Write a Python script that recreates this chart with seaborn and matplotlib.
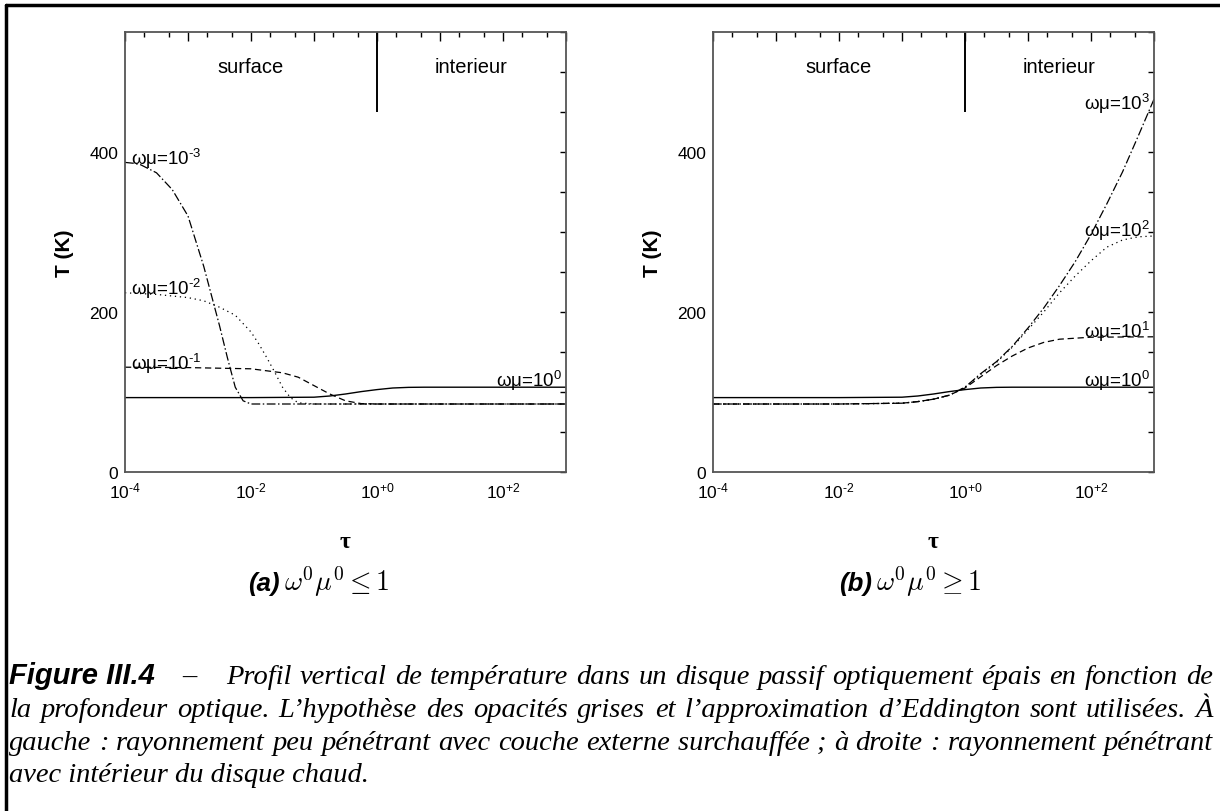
import numpy as np
import matplotlib
matplotlib.use("Agg")
import matplotlib.pyplot as plt
import seaborn as sns
from matplotlib.lines import Line2D
from matplotlib.ticker import MultipleLocator, LogLocator, FixedLocator, FuncFormatter, NullFormatter

W, H = 1220, 812

# log10(tau) sample points and temperatures (K)
# omega*mu = 1 (solid, same in both panels)
lt_1 = [-4, -2, -1, -0.75, -0.5, -0.25, 0, 0.25, 0.5, 0.75, 1, 3]
T_1 = [93, 93, 93.5, 95, 97.5, 100.5, 103, 105, 105.8, 106, 106, 106]

# left panel: omega*mu = 1e-3, 1e-2, 1e-1
lt_m3 = [-4, -3.875, -3.75, -3.5, -3.25, -3.0, -2.75, -2.5, -2.375, -2.25, -2.125, -2.0, -1.5, 3]
T_m3 = [387, 386, 384, 374, 353, 320, 257, 183, 143, 106, 89, 85, 85, 85]

lt_m2 = [-4, -3.5, -3.0, -2.75, -2.5, -2.25, -2.0, -1.875, -1.75, -1.625, -1.5, -1.375, -1.25, -1.0, 3]
T_m2 = [224, 222, 218, 214, 206, 196, 175, 160, 143, 125, 106, 93, 86.5, 85, 85]

lt_m1 = [-4, -3, -2, -1.5, -1.25, -1.0, -0.75, -0.5, -0.25, 0, 3]
T_m1 = [131, 130.5, 129, 124, 118.5, 108, 97.5, 89, 85.5, 85, 85]

# right panel: omega*mu = 1e1, 1e2, 1e3
lt_p1 = [-4, -2, -1, -0.75, -0.5, -0.25, 0, 0.25, 0.5, 0.75, 1.0, 1.25, 1.5, 2.0, 3.0]
T_p1 = [85, 85, 86, 88, 91, 96, 105, 119, 133, 145, 155, 162, 166, 168.5, 169]

lt_p23 = [-4, -2, -1, -0.75, -0.5, -0.25, 0, 0.25, 0.5, 0.75, 1.0, 1.25, 1.5, 1.75, 2.0, 2.25, 2.5, 2.75, 3.0]
T_p2 = [85, 85, 86, 88, 91, 96, 106, 122, 137, 156, 178, 200, 224, 245, 264, 281, 290, 294, 295]
T_p3 = [85, 85, 86, 88, 91, 96, 106, 123, 138, 157, 180, 205, 233, 263, 297, 335, 375, 420, 466]

# surface / interieur separation
boundary_tau = 1.0
boundary_T = [450, 550]
region_labels = ["surface", "interieur"]
region_tau = [1e-2, 10 ** 1.5]
region_T = 507

xtick_labels = {-4: r"10$^{\text{-4}}$", -2: r"10$^{\text{-2}}$", 0: r"10$^{\text{+0}}$", 2: r"10$^{\text{+2}}$"}

sns.set_theme(style="white")
plt.rcParams['font.family'] = ['Liberation Sans', 'DejaVu Sans']
plt.rcParams['mathtext.fontset'] = 'custom'
plt.rcParams['mathtext.rm'] = 'Liberation Sans'
plt.rcParams['mathtext.it'] = 'Liberation Sans:italic'
plt.rcParams['mathtext.bf'] = 'Liberation Sans:bold'

fig = plt.figure(figsize=(W / 100, H / 100), dpi=100)
fig.patch.set_facecolor("white")


def fx(x):
    return x / W


def fy(y):
    return 1 - y / H


styles = {
    "solid": dict(linestyle="-", lw=1.0),
    "dashed": dict(linestyle=(0, (5, 3)), lw=0.9),
    "dotted": dict(linestyle=(0, (1, 3)), lw=0.9),
    "dashdot": dict(linestyle=(0, (7, 2, 1.2, 2)), lw=0.9),
}


def setup_axes(ax):
    ax.set_xscale("log")
    ax.set_xlim(1e-4, 1e3)
    ax.set_ylim(0, 550)
    ax.set_facecolor("white")
    for s in ax.spines.values():
        s.set_color("#555555")
        s.set_linewidth(1.3)
    ax.yaxis.set_major_locator(MultipleLocator(50))
    ax.yaxis.set_major_formatter(FuncFormatter(lambda v, p: f"{int(v)}" if v % 200 == 0 else ""))
    ax.xaxis.set_major_locator(FixedLocator([10.0 ** k for k in range(-4, 4)]))
    ax.xaxis.set_major_formatter(FuncFormatter(
        lambda v, p: xtick_labels.get(int(round(np.log10(v))), "")))
    ax.xaxis.set_minor_locator(LogLocator(base=10, subs=[2, 5], numticks=20))
    ax.xaxis.set_minor_formatter(NullFormatter())
    ax.tick_params(axis="both", which="both", direction="in", top=True, right=True,
                   color="black", width=1.0, labelsize=12.5, labelcolor="black")
    ax.tick_params(axis="x", which="major", length=6.5, pad=6)
    ax.tick_params(axis="x", which="minor", length=3.3)
    ax.tick_params(axis="y", which="major", length=4, pad=5)
    ax.vlines(boundary_tau, boundary_T[0], boundary_T[1], color="black", lw=1.4)
    for lab, t in zip(region_labels, region_tau):
        ax.text(t, region_T, lab, ha="center", va="center", fontsize=14.5, color="black")
    ax.set_xlabel("")
    ax.set_ylabel("")


def curve(ax, lt, T, style):
    sns.lineplot(x=10.0 ** np.array(lt), y=T, ax=ax, color="black", **styles[style])


def label_left(ax, T, text):
    ax.annotate(text, xy=(1e-4, T), xytext=(4, 0), textcoords="offset points",
                ha="left", va="baseline", fontsize=13.5, color="black")


def label_right(ax, T, text):
    ax.annotate(text, xy=(1e3, T), xytext=(-3, 0), textcoords="offset points",
                ha="right", va="baseline", fontsize=13.5, color="black")


ax_a = fig.add_axes([fx(125), fy(473), 441 / W, 440 / H])
ax_b = fig.add_axes([fx(713), fy(473), 441 / W, 440 / H])

for ax in (ax_a, ax_b):
    setup_axes(ax)
    curve(ax, lt_1, T_1, "solid")

curve(ax_a, lt_m1, T_m1, "dashed")
curve(ax_a, lt_m2, T_m2, "dotted")
curve(ax_a, lt_m3, T_m3, "dashdot")
label_left(ax_a, T_m3[0] - 2, r"ωμ=10$^{\text{-3}}$")
label_left(ax_a, T_m2[0] - 2, r"ωμ=10$^{\text{-2}}$")
label_left(ax_a, T_m1[0] - 2, r"ωμ=10$^{\text{-1}}$")
label_right(ax_a, 107, "ωμ=10$^{0}$")

curve(ax_b, lt_p1, T_p1, "dashed")
curve(ax_b, lt_p23, T_p2, "dotted")
curve(ax_b, lt_p23, T_p3, "dashdot")
label_right(ax_b, 454, "ωμ=10$^{3}$")
label_right(ax_b, 295, "ωμ=10$^{2}$")
label_right(ax_b, 169, "ωμ=10$^{1}$")
label_right(ax_b, 107, "ωμ=10$^{0}$")

# axis titles and sub-captions
for cx, yx, tag_x, tag, formula in [(345, 64, 280, "(a)", r"$\omega^0\mu^0 \leq 1$"),
                                    (933, 652, 872, "(b)", r"$\omega^0\mu^0 \geq 1$")]:
    fig.text(fx(yx), fy(253), "T (K)", rotation=90, ha="center", va="center",
             fontsize=15, fontweight="bold", color="black")
    fig.text(fx(cx), fy(542), "τ", ha="center", va="center", fontsize=17,
             fontweight="bold", family="Liberation Serif", color="black")
    fig.text(fx(tag_x), fy(591), tag, ha="right", va="baseline", fontsize=18.5,
             fontweight="bold", fontstyle="italic", color="black")
    fig.text(fx(tag_x + 4), fy(591), formula, ha="left", va="baseline", fontsize=20,
             math_fontfamily="cm", color="black")

# outer frame (left and top edges visible)
fig.add_artist(Line2D([fx(6), fx(6)], [0, fy(6)], transform=fig.transFigure, color="black", lw=2.5))
fig.add_artist(Line2D([fx(6), 1], [fy(6), fy(6)], transform=fig.transFigure, color="black", lw=2.5))

# caption
cap_size = 20.5
cap_kw = dict(fontstyle="italic", family="Liberation Serif", color="black", va="baseline")
fig.text(fx(9), fy(684), "Figure III.4", fontsize=21, fontweight="bold", fontstyle="italic",
         va="baseline", color="black")
fig.text(fx(182), fy(684), "–", fontsize=cap_size, **cap_kw)

cap_lines = [
    (226, 684, "Profil vertical de température dans un disque passif optiquement épais en fonction de"),
    (9, 717, "la profondeur optique. L’hypothèse des opacités grises et l’approximation d’Eddington sont utilisées. À"),
    (9, 750, "gauche : rayonnement peu pénétrant avec couche externe surchauffée ; à droite : rayonnement pénétrant"),
]
renderer = fig.canvas.get_renderer()

# shrink the caption size if a line would not fit with at least a small space
for x0, y, line in cap_lines:
    words = line.replace("surchauffée ;", "surchauffée\u00a0;").split(" ")
    probe = [fig.text(0, 0, w, fontsize=10, **cap_kw) for w in words]
    w10 = sum(t.get_window_extent(renderer).width for t in probe)
    for t in probe:
        t.remove()
    need = (1213 - x0 - 4 * (len(words) - 1)) / w10 * 10
    cap_size = min(cap_size, need)

for x0, y, line in cap_lines:
    words = line.replace("surchauffée ;", "surchauffée\u00a0;").split(" ")
    texts = [fig.text(0, fy(y), w, fontsize=cap_size, **cap_kw) for w in words]
    widths = [t.get_window_extent(renderer).width for t in texts]
    gap = (1213 - x0 - sum(widths)) / (len(words) - 1)
    x = x0
    for t, w in zip(texts, widths):
        t.set_x(fx(x))
        x += w + gap
fig.text(fx(9), fy(782), "avec intérieur du disque chaud.", fontsize=cap_size, **cap_kw)

fig.savefig("out.png", dpi=100, facecolor="white")
